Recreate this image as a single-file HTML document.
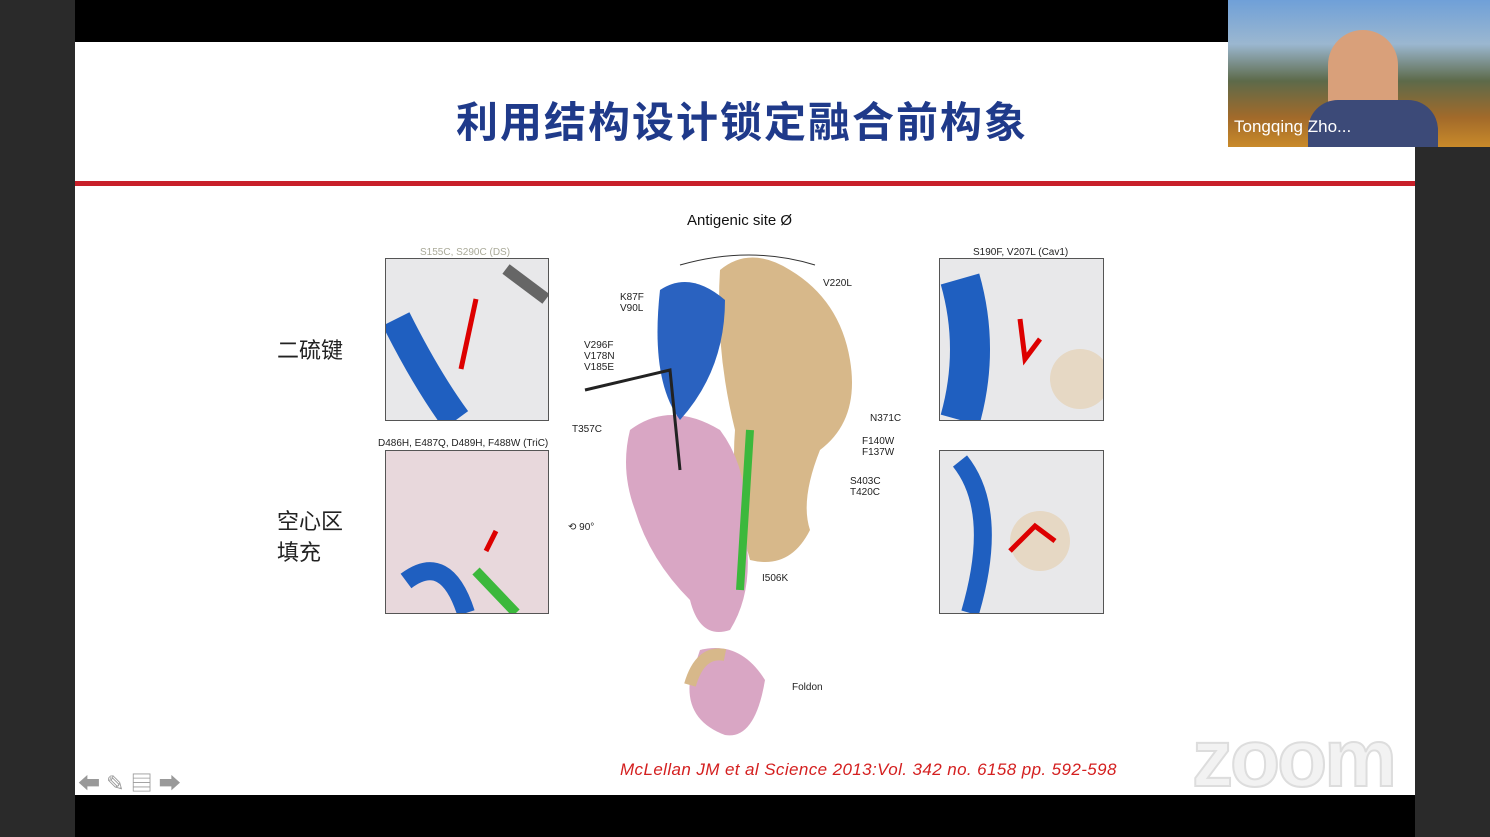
<!DOCTYPE html>
<html><head><meta charset="utf-8"><style>
body{margin:0;width:1490px;height:837px;background:#2a2a2a;position:relative;overflow:hidden;font-family:"Liberation Sans","Noto Sans CJK SC",sans-serif}
.abs{position:absolute}
.box{position:absolute;border:1px solid #555;overflow:hidden;background:#e8e8ea}
.lbl{position:absolute;font-size:10px;color:#222}
</style></head><body>
<div class="abs" style="left:75px;top:0;width:1340px;height:42px;background:#000"></div>
<div class="abs" style="left:75px;top:795px;width:1340px;height:42px;background:#000"></div>
<div class="abs" style="left:75px;top:42px;width:1340px;height:753px;background:#fff"></div>
<div class="abs" style="left:75px;top:89px;width:1334px;text-align:center;font-size:42px;font-weight:bold;color:#1f3a8a;letter-spacing:2px">利用结构设计锁定融合前构象</div>
<div class="abs" style="left:75px;top:181px;width:1340px;height:5px;background:#c8202a"></div>
<div class="abs" style="left:1228px;top:0;width:262px;height:147px;background:linear-gradient(#6fa0d8 0%,#9bb7d0 30%,#5d6a4a 55%,#a26a2a 80%,#c98a2a 100%)">
 <div class="abs" style="left:100px;top:30px;width:70px;height:95px;border-radius:35px 35px 10px 10px;background:#d9a07a"></div>
 <div class="abs" style="left:80px;top:100px;width:130px;height:47px;background:#3c4a78;border-radius:30px 30px 0 0"></div>
 <div class="abs" style="left:6px;top:117px;font-size:17px;color:#fff">Tongqing Zho...</div>
</div>
<div class="abs" style="left:277px;top:333px;font-size:22px;color:#222">二硫键</div>
<div class="abs" style="left:277px;top:506px;font-size:22px;color:#222;line-height:31px">空心区<br>填充</div>
<div class="abs" style="left:687px;top:212px;font-size:15px;color:#111">Antigenic site Ø</div>
<svg class="abs" style="left:550px;top:230px" width="400" height="520">
 <path d="M130 35 Q200 15 265 35" stroke="#333" fill="none"/>
 <path d="M170 40 Q200 15 240 40 Q290 70 300 130 Q310 190 270 220 Q250 270 260 300 Q240 340 200 330 Q180 260 185 200 Q165 120 170 40Z" fill="#d7b88a"/>
 <path d="M80 200 Q120 170 170 200 Q200 240 195 300 Q205 360 180 400 Q150 410 140 370 Q100 330 85 280 Q70 240 80 200Z" fill="#d9a6c4"/>
 <path d="M110 60 Q140 40 175 70 Q175 140 130 190 Q100 150 110 60Z" fill="#2a62c0"/>
 <path d="M200 200 L190 360" stroke="#3cb83c" stroke-width="8"/>
 <path d="M35 160 L120 140 L130 240" stroke="#222" stroke-width="3" fill="none"/>
 <path d="M150 420 Q190 410 215 450 Q205 510 175 505 Q135 490 140 450Z" fill="#d9a6c4"/>
 <path d="M140 455 Q150 420 175 425" stroke="#d7b88a" stroke-width="12" fill="none"/>
</svg>
<div class="box" style="left:385px;top:258px;width:162px;height:161px"><svg width="162" height="161"><path d="M10 60 Q40 120 70 161" stroke="#1f5fc0" stroke-width="30" fill="none"/><path d="M90 40 L75 110" stroke="#d00" stroke-width="5"/><path d="M120 10 L160 40" stroke="#666" stroke-width="12"/></svg></div>
<div class="box" style="left:385px;top:450px;width:162px;height:162px;background:#e8d8dc"><svg width="162" height="162"><path d="M20 130 Q60 100 80 162" stroke="#1f5fc0" stroke-width="18" fill="none"/><path d="M90 120 L130 162" stroke="#3cb83c" stroke-width="10"/><path d="M100 100 L110 80" stroke="#d00" stroke-width="5"/></svg></div>
<div class="box" style="left:939px;top:258px;width:163px;height:161px"><svg width="163" height="161"><path d="M20 20 Q40 90 20 161" stroke="#1f5fc0" stroke-width="40" fill="none"/><path d="M80 60 L85 100 L100 80" stroke="#d00" stroke-width="5" fill="none"/><circle cx="140" cy="120" r="30" fill="#e6d8c4"/></svg></div>
<div class="box" style="left:939px;top:450px;width:163px;height:162px"><svg width="163" height="162"><path d="M20 10 Q60 60 30 162" stroke="#1f5fc0" stroke-width="18" fill="none"/><circle cx="100" cy="90" r="30" fill="#e6d8c4"/><path d="M70 100 L95 75 L115 90" stroke="#d00" stroke-width="5" fill="none"/></svg></div>
<div class="lbl" style="left:420px;top:247px;color:#aa9">S155C, S290C (DS)</div>
<div class="lbl" style="left:973px;top:247px">S190F, V207L (Cav1)</div>
<div class="lbl" style="left:378px;top:438px">D486H, E487Q, D489H, F488W (TriC)</div>
<div class="lbl" style="left:620px;top:292px">K87F<br>V90L</div>
<div class="lbl" style="left:584px;top:340px">V296F<br>V178N<br>V185E</div>
<div class="lbl" style="left:572px;top:424px">T357C</div>
<div class="lbl" style="left:823px;top:278px">V220L</div>
<div class="lbl" style="left:870px;top:413px">N371C</div>
<div class="lbl" style="left:862px;top:436px">F140W<br>F137W</div>
<div class="lbl" style="left:850px;top:476px">S403C<br>T420C</div>
<div class="lbl" style="left:762px;top:573px">I506K</div>
<div class="lbl" style="left:792px;top:682px">Foldon</div>
<div class="lbl" style="left:568px;top:522px">⟲ 90°</div>
<div class="abs" style="left:620px;top:760px;font-size:17px;font-style:italic;color:#d42020;letter-spacing:0.4px">McLellan JM  et al Science 2013:Vol. 342 no. 6158 pp. 592-598</div>
<div class="abs" style="left:1192px;top:712px;font-size:82px;font-weight:bold;color:#f2f2f2;-webkit-text-stroke:2px #ddd;letter-spacing:-3px">zoom</div>
<div class="abs" style="left:78px;top:766px;font-size:22px;color:#999">⬅ ✎ ▤ ➡</div>
</body></html>
